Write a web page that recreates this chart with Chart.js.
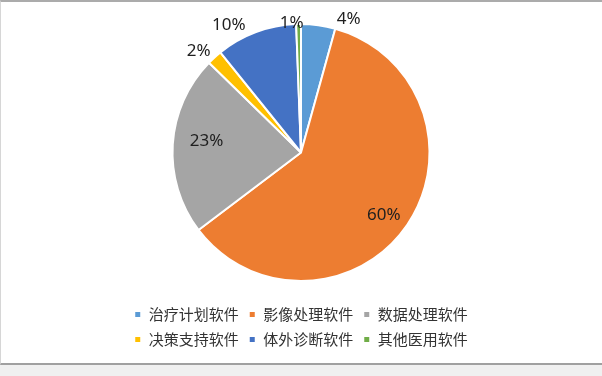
<!DOCTYPE html>
<html>
<head>
<meta charset="utf-8">
<script src="https://cdn.jsdelivr.net/npm/chart.js@4"></script>
<style>
  body { margin: 0; background: #f0f0f0; }
  #box {
    position: absolute; left: 0; top: 0;
    width: 601px; height: 361px; background: #fff;
    border-top: 2px solid #ababab;
    border-left: 1px solid #d6d6d6;
    border-bottom: 2px solid #a0a0a0;
  }
  canvas { display: block; }
</style>
</head>
<body>
<div id="box"><canvas id="myChart" width="601" height="361"></canvas></div>
<script>
const categories = ["治疗计划软件", "影像处理软件", "数据处理软件", "决策支持软件", "体外诊断软件", "其他医用软件"];
const shares = [4.3, 60.4, 22.6, 1.9, 10.2, 0.6];
const sliceColors = ["#5B9BD5", "#ED7D31", "#A5A5A5", "#FFC000", "#4472C4", "#70AD47"];

// percent labels, placed roughly where excel's "best fit" put them
const pieLabels = {
  id: "pieLabels",
  afterDatasetsDraw(chart, args, opts) {
    const ctx = chart.ctx;
    const meta = chart.getDatasetMeta(0);
    const vals = chart.data.datasets[0].data;
    const total = vals.reduce((a, b) => a + b, 0);
    ctx.save();
    ctx.font = "17px 'Noto Sans', 'DejaVu Sans', sans-serif";
    ctx.fillStyle = "#1f1f1f";
    ctx.textAlign = "center";
    ctx.textBaseline = "middle";
    meta.data.forEach((arc, i) => {
      const mid = (arc.startAngle + arc.endAngle) / 2 + opts.nudge[i] * Math.PI / 180;
      const r = arc.outerRadius * opts.dist[i];
      const x = arc.x + Math.cos(mid) * r;
      const y = arc.y + Math.sin(mid) * r;
      ctx.fillText(Math.round(vals[i] / total * 100) + "%", x, y);
    });
    ctx.restore();
  }
};

new Chart("myChart", {
  type: "pie",
  data: {
    labels: categories,
    datasets: [{
      data: shares,
      backgroundColor: sliceColors,
      borderColor: "#ffffff",
      borderWidth: 2
    }]
  },
  options: {
    responsive: false,
    animation: false,
    layout: { padding: { top: 21, bottom: 6, left: 120, right: 121 } },
    plugins: {
      tooltip: { enabled: false },
      legend: {
        position: "bottom",
        fullSize: false,
        title: { display: true, text: " ", font: { size: 10, lineHeight: 1 }, padding: { top: 5, bottom: 0 } },
        labels: {
          boxWidth: 7,
          boxHeight: 7,
          padding: 10,
          color: "#333333",
          font: { family: "'Noto Sans CJK SC', sans-serif", size: 15 }
        }
      },
      pieLabels: {
        nudge: [12, 3, 3, -3, -9, -3],
        dist: [1.10, 0.81, 0.74, 1.12, 1.14, 1.01]
      }
    }
  },
  plugins: [pieLabels]
});
</script>
</body>
</html>
